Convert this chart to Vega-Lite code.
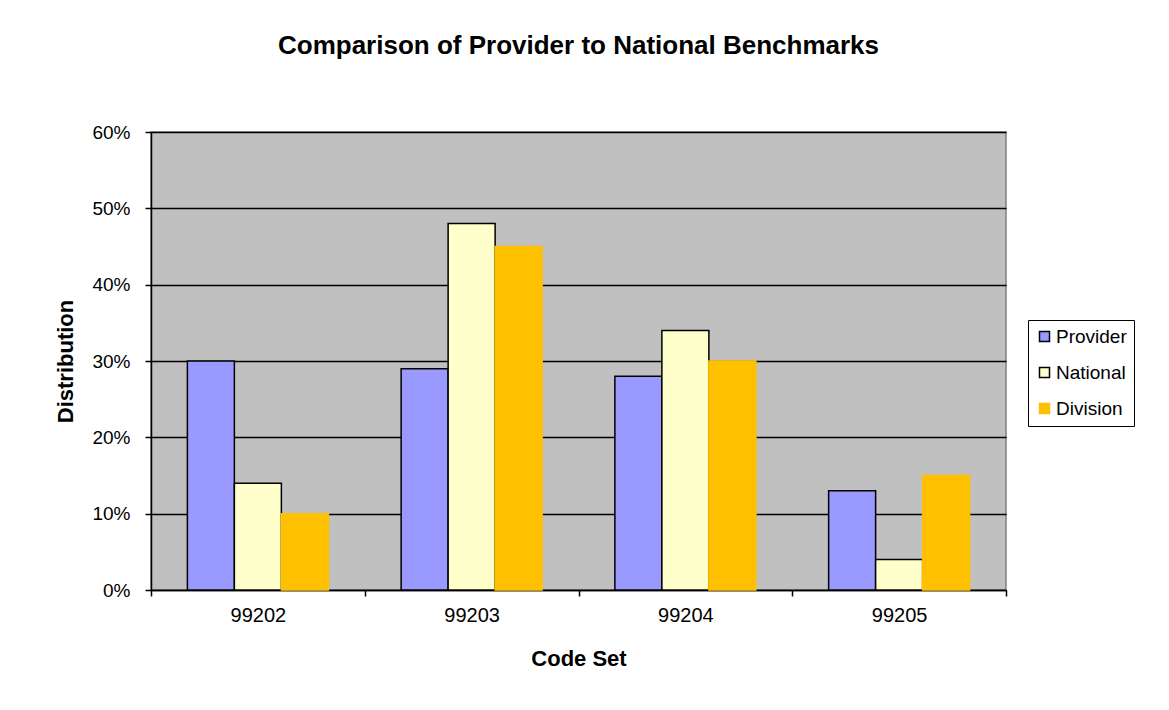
{
  "$schema": "https://vega.github.io/schema/vega-lite/v6.json",
  "autosize": "none",
  "width": 855,
  "height": 458,
  "padding": {"left": 151, "top": 132, "right": 163, "bottom": 120},
  "background": "white",
  "title": {
    "text": "Comparison of Provider to National Benchmarks",
    "font": "Liberation Sans",
    "fontSize": 26,
    "fontWeight": "bold",
    "color": "black",
    "anchor": "middle",
    "offset": 64
  },
  "data": {
    "values": [
      {"code": "99202", "series": "Provider", "value": 0.30},
      {"code": "99202", "series": "National", "value": 0.14},
      {"code": "99202", "series": "Division", "value": 0.10},
      {"code": "99203", "series": "Provider", "value": 0.29},
      {"code": "99203", "series": "National", "value": 0.48},
      {"code": "99203", "series": "Division", "value": 0.45},
      {"code": "99204", "series": "Provider", "value": 0.28},
      {"code": "99204", "series": "National", "value": 0.34},
      {"code": "99204", "series": "Division", "value": 0.30},
      {"code": "99205", "series": "Provider", "value": 0.13},
      {"code": "99205", "series": "National", "value": 0.04},
      {"code": "99205", "series": "Division", "value": 0.15}
    ]
  },
  "mark": {"type": "bar", "strokeWidth": 1.5},
  "encoding": {
    "x": {
      "field": "code",
      "type": "nominal",
      "title": "Code Set",
      "scale": {"paddingInner": 0, "paddingOuter": 0},
      "axis": {
        "labelAngle": 0,
        "labelFontSize": 20,
        "tickBand": "extent",
        "grid": false,
        "tickSize": 6,
        "labelPadding": 9,
        "titlePadding": 23
      }
    },
    "xOffset": {
      "field": "series",
      "type": "nominal",
      "sort": ["Provider", "National", "Division"],
      "scale": {"paddingInner": 0, "paddingOuter": 0.774}
    },
    "y": {
      "field": "value",
      "type": "quantitative",
      "title": "Distribution",
      "scale": {"domain": [0, 0.6], "nice": false},
      "axis": {
        "format": ".0%",
        "values": [0, 0.1, 0.2, 0.3, 0.4, 0.5, 0.6],
        "grid": true,
        "tickSize": 6,
        "labelPadding": 15,
        "titlePadding": 14
      }
    },
    "fill": {
      "field": "series",
      "type": "nominal",
      "title": null,
      "sort": ["Provider", "National", "Division"],
      "scale": {"domain": ["Provider", "National", "Division"], "range": ["#9999FF", "#FFFFCC", "#FFC000"]}
    },
    "stroke": {
      "field": "series",
      "type": "nominal",
      "title": null,
      "sort": ["Provider", "National", "Division"],
      "scale": {"domain": ["Provider", "National", "Division"], "range": ["#000000", "#000000", "#FFC000"]}
    }
  },
  "config": {
    "font": "Liberation Sans",
    "view": {"fill": "#C0C0C0", "stroke": "#808080", "strokeWidth": 1.5},
    "axis": {
      "labelFont": "Liberation Sans",
      "labelFontSize": 19,
      "labelColor": "black",
      "titleFont": "Liberation Sans",
      "titleFontSize": 22,
      "titleFontWeight": "bold",
      "titleColor": "black",
      "domainColor": "black",
      "domainWidth": 1.5,
      "tickColor": "black",
      "tickWidth": 1.5,
      "gridColor": "black",
      "gridWidth": 1.5,
      "gridOpacity": 1
    },
    "legend": {
      "orient": "none",
      "legendX": 877,
      "legendY": 188,
      "strokeColor": "black",
      "fillColor": "white",
      "padding": 7,
      "symbolType": "square",
      "symbolSize": 100,
      "symbolStrokeWidth": 1.5,
      "labelFont": "Liberation Sans",
      "labelFontSize": 19,
      "labelColor": "black",
      "rowPadding": 16,
      "labelOffset": 2
    }
  }
}
